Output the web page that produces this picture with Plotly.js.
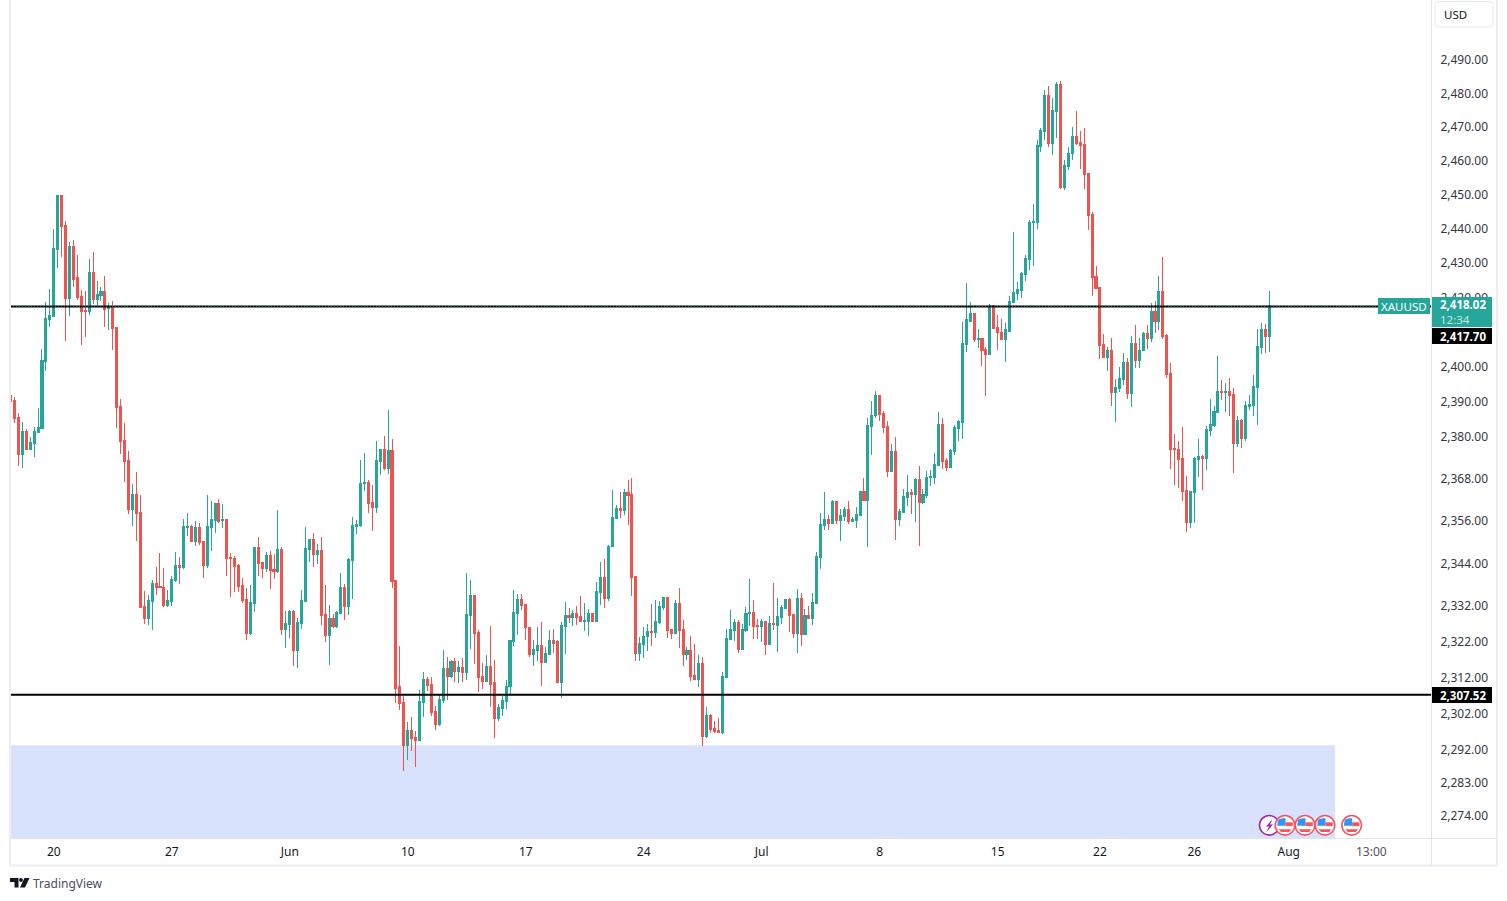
<!DOCTYPE html>
<html><head><meta charset="utf-8">
<script src="https://cdn.plot.ly/plotly-3.0.1.min.js"></script>
<style>html,body{margin:0;padding:0;background:#fff}#chart{width:1507px;height:901px}.boxes path{shape-rendering:crispEdges}</style>
</head><body><div id="chart"></div>
<script>
const direction = "RRRGRGGGGG"+"GGGRRGRRRR"+"GRGGRGRRRR"+"RGRRRGGRRR"+"GGGRGGRGRR"+"GGGRGRRRRR"+"RGGRRGRRGR"+"GGRGGGGRGR"+"RGRGGRGGGG"+"GRRGGRGRRR"+"RGRRGGRRRG"+"GRGRGRGGRR"+"RGRRGGGGGG"+"RRRGGRGGRR"+"GGRGRRGGRG"+"GRGGGRGRRR"+"GGGRGGGRRG"+"RRGRRGRGRR"+"RGGGGRGGGR"+"RGRGRGGGRR"+"GRGRGGGGRG"+"RGGRGGGRGG"+"GRRRGRGGGR"+"GRGGGGGRRG"+"GGGGGRGRRG"+"RRRGGGGGGG"+"GGGGRGGRGG"+"GRRRRRRRRG"+"RGGGRGRGGR"+"GRGRRRRRRR"+"GGGRGGGGRG"+"RRGRGGGGGRG";
const high = [2394.3,2391.1,2386.3,2383.7,2381.7,2379.4,2382.3,2387.7,2404.8,2418.5,
2422.3,2439.7,2449.8,2449.5,2442.0,2436.0,2436.5,2432.2,2422.0,2421.7,
2430.8,2433.1,2424.5,2422.8,2426.0,2418.0,2418.8,2411.1,2390.5,2383.4,
2375.4,2366.2,2369.7,2363.1,2335.9,2334.7,2338.9,2342.8,2346.7,2342.5,
2336.1,2340.3,2347.0,2345.6,2356.1,2357.8,2354.5,2355.6,2355.0,2349.8,
2363.1,2361.4,2360.6,2362.0,2360.6,2356.1,2346.7,2345.9,2343.6,2339.5,
2336.7,2337.5,2348.1,2351.1,2343.9,2347.0,2347.3,2346.4,2358.9,2348.4,
2330.3,2330.6,2330.6,2328.3,2336.1,2353.9,2350.6,2352.3,2349.2,2351.1,
2337.5,2331.9,2329.5,2330.3,2341.1,2337.8,2345.3,2356.7,2355.9,2372.9,
2374.9,2367.3,2365.9,2378.3,2376.0,2379.7,2387.4,2379.1,2338.9,2320.6,
2306.7,2299.4,2300.8,2296.9,2308.3,2313.3,2311.9,2311.9,2303.9,2307.2,
2319.4,2317.5,2316.7,2317.2,2316.4,2317.2,2341.1,2338.9,2334.7,2325.0,
2315.8,2318.1,2326.1,2316.7,2304.4,2306.6,2311.1,2322.2,2336.1,2335.0,
2335.0,2332.2,2325.8,2322.2,2325.8,2327.2,2320.3,2325.0,2325.3,2322.2,
2327.2,2332.8,2331.1,2330.6,2331.7,2334.5,2332.5,2330.8,2329.7,2338.6,
2344.2,2345.0,2348.9,2364.5,2360.3,2363.9,2364.8,2367.3,2367.8,2340.0,
2323.1,2325.8,2326.7,2332.2,2333.3,2333.1,2334.2,2334.2,2325.3,2333.3,
2336.7,2327.8,2320.3,2323.3,2321.1,2318.1,2317.5,2303.6,2301.6,2299.7,
2300.5,2313.3,2325.3,2330.6,2328.1,2327.8,2326.7,2331.4,2339.2,2333.3,
2328.1,2328.1,2327.5,2328.9,2338.1,2333.9,2332.0,2333.6,2333.9,2329.5,
2336.4,2335.3,2330.8,2331.7,2335.3,2347.0,2357.8,2363.9,2357.3,2361.7,
2361.4,2359.0,2359.6,2361.2,2356.8,2359.6,2364.3,2367.8,2384.9,2389.8,
2392.6,2391.5,2386.9,2384.0,2377.5,2379.5,2359.0,2364.6,2368.6,2364.8,
2367.8,2371.2,2364.8,2369.8,2370.0,2374.9,2386.6,2384.9,2373.5,2376.0,
2382.9,2384.3,2412.6,2424.0,2418.3,2415.2,2410.6,2408.0,2405.5,2417.7,
2417.5,2414.6,2413.5,2412.3,2420.3,2438.9,2424.3,2427.2,2432.0,2442.3,
2446.9,2465.9,2469.4,2480.9,2481.8,2478.5,2483.0,2483.3,2460.0,2463.8,
2469.7,2474.4,2468.5,2469.4,2456.2,2444.6,2428.9,2422.5,2409.1,2405.4,
2408.0,2396.3,2399.7,2403.7,2402.3,2408.5,2411.7,2408.0,2409.7,2411.7,
2418.0,2418.8,2426.0,2431.4,2409.1,2400.8,2380.5,2378.5,2382.3,2368.3,
2364.2,2373.7,2379.1,2374.3,2382.8,2390.5,2388.5,2402.8,2396.0,2395.1,
2396.5,2393.7,2385.4,2384.8,2389.7,2391.7,2397.4,2410.5,2412.3,2412.0,2421.7];
const bodyHigh = [2391.4,2390.0,2385.1,2381.1,2381.1,2378.0,2381.1,2382.3,2401.4,2413.7,
2414.5,2434.0,2449.5,2449.5,2440.8,2434.5,2434.5,2425.4,2420.0,2416.0,
2427.1,2427.1,2420.5,2421.4,2421.4,2417.1,2417.1,2411.1,2388.3,2378.6,
2372.8,2363.1,2363.1,2358.1,2331.7,2333.3,2338.1,2338.1,2337.2,2337.0,
2333.3,2339.2,2343.1,2343.1,2354.2,2354.2,2354.2,2353.9,2353.9,2349.8,
2354.2,2356.1,2360.6,2360.6,2356.1,2356.1,2345.3,2345.0,2343.1,2337.5,
2333.6,2332.8,2348.1,2348.1,2343.9,2345.9,2345.9,2342.0,2347.5,2347.5,
2326.9,2330.3,2330.3,2327.2,2333.3,2347.8,2350.3,2350.3,2347.3,2347.3,
2329.5,2328.3,2328.3,2330.0,2337.0,2337.0,2344.8,2354.5,2354.8,2366.4,
2366.7,2366.7,2360.9,2372.9,2376.0,2376.0,2375.7,2375.7,2338.9,2309.2,
2305.0,2297.2,2297.2,2295.2,2305.3,2311.4,2311.4,2310.0,2302.5,2305.8,
2314.2,2314.2,2316.4,2316.4,2314.7,2314.7,2329.5,2334.7,2334.7,2324.4,
2312.2,2315.0,2315.0,2310.3,2303.6,2305.5,2309.4,2322.2,2330.0,2333.6,
2333.6,2332.2,2325.8,2319.7,2320.6,2320.6,2318.6,2322.2,2322.2,2321.7,
2326.4,2329.2,2329.2,2329.7,2329.7,2328.9,2327.8,2329.7,2329.7,2335.9,
2339.7,2339.7,2348.6,2356.7,2359.2,2359.2,2363.7,2363.7,2363.1,2340.0,
2321.4,2323.3,2324.7,2324.7,2327.5,2331.7,2334.2,2334.2,2325.3,2332.5,
2332.5,2325.3,2319.2,2319.2,2312.5,2315.8,2315.8,2301.4,2301.4,2297.8,
2297.2,2312.2,2322.8,2325.3,2327.2,2327.2,2325.3,2329.7,2330.0,2330.0,
2326.4,2327.5,2327.5,2326.9,2326.9,2328.9,2331.4,2333.6,2333.6,2329.5,
2333.9,2333.9,2329.2,2329.2,2332.8,2345.6,2354.8,2356.1,2356.1,2361.2,
2361.2,2357.1,2359.0,2359.0,2356.2,2357.6,2364.0,2364.0,2382.9,2385.8,
2391.5,2391.5,2386.3,2382.6,2375.5,2375.5,2358.4,2362.6,2363.7,2363.7,
2367.3,2367.3,2363.2,2368.0,2368.3,2371.8,2383.2,2383.2,2372.9,2375.8,
2382.3,2384.0,2406.3,2413.2,2415.2,2415.2,2407.7,2407.7,2404.6,2417.5,
2417.5,2410.9,2409.7,2410.3,2418.6,2421.1,2422.0,2426.6,2431.2,2441.5,
2441.8,2464.4,2468.8,2479.1,2479.1,2474.7,2482.4,2482.4,2458.5,2462.0,
2466.8,2466.8,2465.3,2464.7,2455.9,2444.0,2425.8,2422.5,2406.0,2404.3,
2404.3,2393.7,2396.3,2400.8,2400.8,2406.5,2406.5,2404.5,2409.4,2409.4,
2415.7,2415.7,2421.4,2421.4,2408.8,2397.7,2376.3,2376.0,2373.4,2364.2,
2363.9,2373.4,2374.0,2374.0,2381.7,2383.1,2386.8,2392.5,2392.5,2392.5,
2392.5,2391.7,2384.3,2384.3,2388.5,2388.8,2394.0,2405.4,2410.5,2410.5,2417.4];
const bodyLow = [2389.7,2384.8,2374.6,2374.6,2376.0,2376.0,2377.7,2380.8,2382.0,2401.1,
2413.4,2414.3,2433.7,2440.5,2419.4,2419.4,2425.1,2419.7,2415.7,2415.8,
2415.7,2419.1,2419.1,2420.3,2416.3,2416.5,2410.8,2388.0,2378.3,2372.6,
2359.0,2358.9,2357.8,2331.4,2328.3,2328.3,2333.1,2337.0,2337.0,2332.0,
2332.0,2333.1,2338.9,2342.5,2342.5,2353.9,2350.0,2350.0,2349.5,2343.1,
2343.1,2353.9,2355.9,2355.6,2355.9,2345.0,2345.0,2342.8,2337.2,2333.3,
2324.2,2324.2,2332.5,2343.6,2342.2,2342.2,2341.7,2341.4,2341.4,2325.3,
2325.3,2326.7,2319.4,2319.4,2326.9,2333.1,2347.5,2346.1,2346.1,2329.2,
2323.6,2323.6,2326.1,2326.1,2329.7,2331.7,2331.7,2344.5,2354.2,2354.5,
2366.4,2360.6,2359.5,2359.5,2372.6,2370.6,2370.6,2338.6,2308.9,2304.7,
2293.0,2293.0,2295.0,2294.4,2294.4,2305.0,2309.7,2302.2,2298.9,2298.9,
2305.5,2312.2,2312.2,2313.6,2313.6,2313.3,2313.3,2329.2,2324.2,2311.9,
2310.8,2310.8,2310.0,2300.5,2300.5,2303.3,2305.3,2309.2,2321.9,2329.7,
2332.0,2325.6,2318.1,2318.1,2319.4,2316.1,2316.1,2318.3,2321.4,2310.5,
2310.5,2326.1,2328.6,2328.6,2328.6,2327.5,2327.5,2327.5,2327.5,2327.5,
2335.6,2333.9,2333.9,2348.4,2356.4,2358.7,2358.7,2362.8,2339.7,2318.6,
2318.6,2321.1,2323.1,2324.4,2324.4,2327.2,2331.4,2325.0,2324.2,2324.2,
2325.0,2318.3,2318.3,2312.2,2311.4,2311.4,2295.5,2295.5,2297.5,2296.9,
2296.6,2296.6,2311.9,2322.5,2325.0,2319.7,2319.7,2325.0,2329.7,2326.1,
2326.1,2326.1,2321.1,2321.1,2326.7,2326.4,2328.6,2331.1,2329.2,2324.2,
2324.2,2323.9,2323.9,2328.3,2328.3,2332.5,2345.3,2354.5,2355.0,2355.0,
2355.9,2355.9,2356.8,2355.4,2355.4,2355.9,2357.3,2361.5,2361.5,2382.6,
2385.8,2386.0,2382.3,2369.8,2369.8,2356.2,2356.2,2358.2,2362.3,2363.2,
2363.2,2361.0,2361.0,2362.9,2368.0,2368.0,2371.5,2372.6,2370.9,2370.9,
2375.5,2382.0,2383.8,2406.0,2412.9,2407.5,2407.5,2404.3,2403.2,2403.2,
2410.6,2409.5,2407.5,2407.5,2410.0,2418.3,2420.9,2421.8,2426.3,2430.9,
2441.5,2441.5,2464.1,2468.5,2465.0,2465.0,2474.4,2452.0,2452.0,2458.2,
2461.8,2465.0,2464.4,2455.6,2443.8,2425.5,2422.3,2405.7,2402.3,2402.3,
2392.3,2392.3,2393.4,2396.0,2392.0,2392.0,2401.4,2401.4,2404.3,2407.7,
2407.7,2412.8,2412.8,2408.5,2397.4,2376.0,2376.0,2373.1,2363.9,2355.1,
2355.1,2363.7,2373.1,2373.4,2373.4,2381.4,2382.8,2386.5,2392.3,2392.3,
2391.4,2377.7,2377.7,2379.1,2379.1,2388.3,2388.5,2393.7,2405.1,2408.5,2408.5];
const low = [2386.3,2383.4,2371.4,2370.8,2375.7,2376.0,2373.7,2380.8,2381.7,2398.5,
2411.1,2414.3,2428.3,2431.4,2407.1,2414.3,2422.8,2419.1,2406.0,2408.3,
2414.5,2417.7,2417.1,2418.8,2411.1,2410.3,2404.5,2382.0,2374.8,2366.6,
2357.6,2354.2,2350.0,2331.4,2326.7,2326.4,2325.0,2334.7,2337.0,2331.4,
2331.4,2331.7,2338.4,2337.8,2342.0,2351.4,2350.0,2348.6,2348.9,2339.7,
2342.5,2347.3,2352.3,2355.0,2353.6,2340.3,2334.2,2335.6,2335.6,2332.5,
2322.2,2323.6,2330.0,2340.3,2339.5,2341.4,2336.4,2339.2,2341.1,2323.6,
2320.0,2322.8,2315.0,2314.4,2325.3,2332.8,2344.2,2342.8,2343.6,2326.4,
2321.7,2315.3,2325.6,2325.6,2329.5,2327.8,2329.2,2333.6,2352.0,2353.9,
2364.2,2357.8,2352.8,2357.8,2368.8,2370.0,2369.1,2336.9,2304.7,2302.8,
2286.1,2288.9,2291.6,2287.2,2294.4,2300.8,2308.0,2301.1,2297.2,2298.3,
2304.7,2305.5,2311.7,2310.5,2310.3,2310.5,2311.1,2319.7,2315.5,2307.8,
2308.6,2310.8,2303.6,2295.0,2299.7,2301.1,2303.0,2306.9,2320.6,2323.6,
2330.6,2322.2,2317.5,2315.0,2316.4,2309.4,2315.8,2318.3,2318.6,2310.3,
2306.1,2318.3,2326.9,2326.1,2326.4,2327.2,2324.7,2323.3,2327.5,2327.2,
2332.0,2331.1,2333.1,2348.4,2356.4,2356.4,2357.5,2354.5,2334.5,2316.4,
2316.4,2317.2,2319.2,2320.6,2322.8,2326.7,2330.6,2322.8,2322.5,2324.2,
2320.0,2315.0,2316.7,2310.8,2311.4,2309.2,2293.0,2295.0,2296.6,2296.4,
2296.4,2296.1,2311.9,2322.2,2321.9,2318.6,2319.4,2324.4,2326.1,2322.5,
2322.5,2321.7,2318.1,2320.8,2325.0,2318.9,2326.7,2330.8,2324.4,2322.8,
2318.6,2320.6,2323.9,2328.1,2326.4,2332.5,2342.0,2353.1,2353.1,2355.0,
2354.8,2350.1,2355.7,2354.8,2355.4,2353.7,2357.3,2361.2,2348.4,2374.3,
2384.9,2384.0,2380.6,2368.0,2369.5,2350.4,2354.3,2357.9,2359.8,2357.6,
2355.4,2348.7,2360.4,2362.3,2365.7,2366.2,2371.5,2370.3,2369.8,2370.9,
2374.3,2378.3,2378.9,2404.0,2412.6,2406.9,2405.2,2400.0,2391.2,2403.2,
2410.6,2404.6,2407.5,2401.2,2410.0,2418.0,2419.1,2419.5,2424.6,2427.8,
2428.9,2439.8,2462.3,2465.9,2463.8,2461.5,2466.5,2451.4,2451.2,2457.0,
2460.0,2464.4,2457.3,2451.4,2439.5,2420.1,2422.1,2402.0,2402.3,2398.5,
2388.5,2383.7,2392.3,2394.5,2390.5,2388.0,2399.4,2399.4,2404.3,2404.8,
2406.8,2409.4,2410.3,2407.7,2396.5,2370.5,2365.9,2365.1,2361.4,2352.6,
2353.7,2355.1,2368.0,2364.5,2370.0,2379.7,2382.5,2386.5,2390.0,2386.8,
2385.4,2369.4,2376.8,2376.3,2378.5,2387.4,2385.4,2383.1,2403.4,2403.7,2404.0];

const priceTicks = [2490,2480,2470,2460,2450,2440,2430,2420,2400,2390,2380,2368,2356,2344,2332,2322,2312,2302,2292,2283,2274];
const timeTickPos = [11,41,71,101,131,161,191,221,251,277,301,325,346];
const timeTickText = ["20","27","Jun","10","17","24","Jul","8","15","22","26","Aug","13:00"];
const lastLevel = 2417.1, lastLevelText = "2,418.02", countdown = "12:34", bidText = "2,417.70";
const supportLevel = 2307.0, supportText = "2,307.52";
const zoneTop = 2293.1, zoneEnd = 336.8, zoneBottom = 2260;

const FONT = '"Noto Sans", "Open Sans", sans-serif';
const UP = '#26a69a', DOWN = '#ef5350', INK = '#131722', FRAME = '#e0e3eb', OUTER = '#eceef3';
const L = 10, R = 1431, B = 838, W = R - L, H = B;
const px = x => (x - L) / W, py = y => (B - y) / H;

const isUp = i => direction[i] === 'G';
const open = bodyHigh.map((v, i) => isUp(i) ? bodyLow[i] : v);
const close = bodyHigh.map((v, i) => isUp(i) ? v : bodyLow[i]);
const idx = high.map((_, i) => i);

const trace = {
  type: 'candlestick', x: idx, open, high, low, close,
  increasing: {line: {color: UP, width: 1}, fillcolor: UP},
  decreasing: {line: {color: DOWN, width: 1}, fillcolor: DOWN},
  hoverinfo: 'skip', showlegend: false, name: 'XAUUSD'
};

const rect = (x0, y0, x1, y1, fill, line, lw) => ({type:'rect', xref:'paper', yref:'paper', x0:px(x0), x1:px(x1), y0:py(y0), y1:py(y1), fillcolor:fill, line:{color:line||fill, width:lw===undefined?0:lw}});
const seg = (x0, y0, x1, y1, c, w) => ({type:'line', xref:'paper', yref:'paper', x0:px(x0), x1:px(x1), y0:py(y0), y1:py(y1), line:{color:c, width:w}});
const circ = (cx, cy, r, fill, line, lw) => ({type:'circle', xref:'paper', yref:'paper', x0:px(cx-r), x1:px(cx+r), y0:py(cy+r), y1:py(cy-r), fillcolor:fill, line:{color:line, width:lw}});
const poly = (pts, fill) => ({type:'path', xref:'paper', yref:'paper', path:'M'+pts.map(p=>px(p[0])+','+py(p[1])).join(' L')+' Z', fillcolor:fill, line:{width:0}});

function flag(cx, cy) {
  return [
    circ(cx, cy, 9.8, '#ffffff', '#f7525f', 1.6),
    poly([[cx-7,cy-5.5],[cx-3,cy-7],[cx+0.5,cy-7],[cx+0.5,cy+0.5],[cx-7.8,cy+0.5]], '#2f96f3'),
    poly([[cx+0.5,cy-3],[cx+7.8,cy-3],[cx+7.8,cy+0.8],[cx+0.5,cy+0.8]], '#f7525f'),
    poly([[cx-6.5,cy+4],[cx+6.5,cy+4],[cx+4,cy+6.8],[cx-4,cy+6.8]], '#f7525f')
  ];
}

const shapes = [
  {type:'rect', xref:'x', yref:'y', x0:-1, x1:zoneEnd, y0:zoneBottom, y1:zoneTop, fillcolor:'#d9e2fd', line:{width:0}, layer:'below'},
  {type:'line', xref:'paper', yref:'y', x0:0, x1:1, y0:lastLevel, y1:lastLevel, line:{color:'#000000', width:2}},
  {type:'line', xref:'paper', yref:'y', x0:0, x1:1, y0:lastLevel+0.15, y1:lastLevel+0.15, line:{color:UP, width:1, dash:'1px,2px'}},
  {type:'line', xref:'paper', yref:'y', x0:0, x1:1, y0:supportLevel, y1:supportLevel, line:{color:'#000000', width:2}},
  seg(10, 0, 10, 866, OUTER, 2),
  seg(1497, 0, 1497, 866, OUTER, 2),
  seg(9, 865.5, 1498, 865.5, OUTER, 2),
  seg(10, 838.5, 1497, 838.5, FRAME, 1),
  seg(1431.5, 0, 1431.5, 865, FRAME, 1),
  rect(1378, 298, 1430, 314, UP),
  rect(1432, 297, 1492, 327, UP),
  rect(1432, 328, 1492, 344, '#000000'),
  rect(1432, 687, 1492, 703, '#000000'),
  {type:'path', xref:'paper', yref:'paper', line:{color:'#e6e8ee', width:1}, fillcolor:'#ffffff',
   path:`M${px(1438)},${py(1.5)} L${px(1490)},${py(1.5)} Q${px(1493)},${py(1.5)} ${px(1493)},${py(4.5)} L${px(1493)},${py(24)} Q${px(1493)},${py(27)} ${px(1490)},${py(27)} L${px(1438)},${py(27)} Q${px(1435)},${py(27)} ${px(1435)},${py(24)} L${px(1435)},${py(4.5)} Q${px(1435)},${py(1.5)} ${px(1438)},${py(1.5)} Z`},
  circ(1269.3, 825.3, 9.8, '#ffffff', '#9c27b0', 1.6),
  poly([[1272.5,819],[1266,826.5],[1269,826.5],[1266.5,832],[1273,824.5],[1270,824.5]], '#9c27b0'),
  ...flag(1325, 825.3), ...flag(1305, 825.3), ...flag(1285, 825.3), ...flag(1351.7, 825.3),
  poly([[10,878],[18.5,878],[18.5,887.5],[14.5,887.5],[14.5,882],[10,882]], '#131722'),
  circ(21, 880, 1.9, '#131722', '#131722', 0),
  poly([[24.5,878],[29.5,878],[25,887.5],[20,887.5]], '#131722')
];

const note = (x, y, text, size, color, anchor, weight) => ({xref:'paper', yref:'paper', x:px(x), y:py(y), text: weight ? '<b>'+text+'</b>' : text, showarrow:false, xanchor:anchor||'center', yanchor:'middle', borderpad:0, borderwidth:0, font:{family:FONT, size:size, color:color}});

const annotations = [
  note(1404, 306, 'XAUUSD', 11.5, '#ffffff'),
  note(1463, 304.5, lastLevelText, 11.5, '#ffffff', 'center', true),
  note(1455, 319.5, countdown, 11.5, '#c3e8e3'),
  note(1463, 336, bidText, 11.5, '#ffffff', 'center', true),
  note(1463, 695, supportText, 11.5, '#ffffff', 'center', true),
  note(1455, 14.5, 'USD', 11.5, INK),
  note(33, 883, 'TradingView', 12, '#4a4e5c', 'left')
];

const layout = {
  width: 1507, height: 901, paper_bgcolor: '#ffffff', plot_bgcolor: '#ffffff',
  margin: {l: L, r: 1507 - R, t: 0, b: 901 - B, pad: 0}, showlegend: false,
  boxgap: 0.25,
  font: {family: FONT, size: 12, color: INK},
  xaxis: {
    type: 'linear', range: [-0.13, 361.17], rangeslider: {visible: false},
    showgrid: false, zeroline: false, showline: false, tickmode: 'array',
    tickvals: timeTickPos,
    ticktext: timeTickText.map(t => t === '13:00' ? '<span style="color:#50535e">'+t+'</span>' : t),
    ticks: 'outside', ticklen: 3, tickcolor: 'rgba(0,0,0,0)', tickfont: {family: FONT, size: 12, color: INK}
  },
  yaxis: {
    type: 'log', side: 'right', range: [Math.log10(2267.7), Math.log10(2507.7)],
    showgrid: false, zeroline: false, showline: false, tickmode: 'array',
    tickvals: priceTicks,
    ticktext: priceTicks.map(v => v.toLocaleString('en-US', {minimumFractionDigits: 2, maximumFractionDigits: 2})),
    ticks: 'outside', ticklen: 6, tickcolor: 'rgba(0,0,0,0)', ticklabelshift: 1, tickfont: {family: FONT, size: 12, color: '#333842'}
  },
  shapes, annotations
};
Plotly.newPlot('chart', [trace], layout, {displayModeBar: false, staticPlot: true});
</script></body></html>
